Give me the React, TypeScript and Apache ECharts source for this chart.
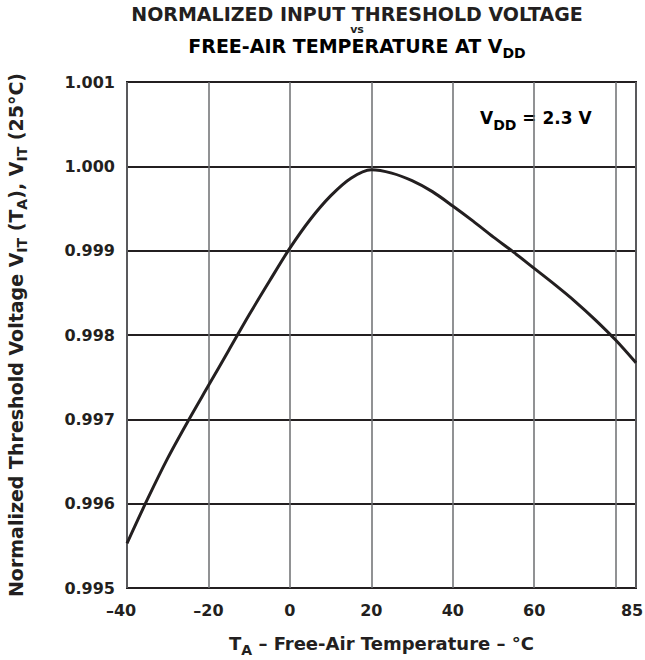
import React, { useEffect, useRef } from 'react';
import * as echarts from 'echarts';

// Curve (T_A in °C, normalized V_IT)
const temperatures = [-40, -35, -30, -25, -20, -15, -10, -5, 0, 5, 10, 15, 20, 25, 30, 35, 40, 45, 50, 55, 60, 65, 70, 75, 80, 85];
const normalizedVoltage = [
  0.99553, 0.99605, 0.99654, 0.99698, 0.9974, 0.99782, 0.99824, 0.99864, 0.99903, 0.99937, 0.99965, 0.99986, 0.99996,
  0.99992, 0.99983, 0.9997, 0.99953, 0.99935, 0.99916, 0.99898, 0.99879, 0.9986, 0.9984, 0.99818, 0.99794, 0.99767,
];

const xMin = -40;
const xMax = 85;
const xStep = 20;
const yMin = 0.995;
const yMax = 1.001;
const yStep = 0.001;

const titleLine1 = 'NORMALIZED INPUT THRESHOLD VOLTAGE';
const titleLine2 = 'vs';
const titleLine3 = 'FREE-AIR TEMPERATURE AT V';
const annotation = ' = 2.3 V';

const FONT = "'DejaVu Sans', 'Liberation Sans', sans-serif";
const INK = '#231f20';

const richStyles = (size: number, subSize: number, subDrop: number, lh = 4) => ({
  m: { fontFamily: FONT, fontWeight: 'bold', fontSize: size, lineHeight: size + lh, verticalAlign: 'top', color: INK },
  s: { fontFamily: FONT, fontWeight: 'bold', fontSize: subSize, lineHeight: subSize + 2, padding: [subDrop, 0, 0, 0], verticalAlign: 'top', color: INK },
});

const tickText = { fontFamily: FONT, fontWeight: 'bold', fontSize: 16, color: INK };

export default function App() {
  const ref = useRef<HTMLDivElement>(null);
  useEffect(() => {
    if (!ref.current) return;
    const chart = echarts.init(ref.current, undefined, { renderer: 'svg' });
    const option: any = {
      animation: false,
      backgroundColor: '#ffffff',
      grid: {
        left: 127, top: 82, width: 509, height: 506,
        show: true, borderColor: INK, borderWidth: 2,
        containLabel: false, outerBoundsMode: 'none',
      },
      xAxis: {
        type: 'value', min: xMin, max: xMax, interval: xStep,
        axisLine: { show: false }, axisTick: { show: false },
        splitLine: { show: true, lineStyle: { color: '#6d6e71', width: 1.5 } },
        axisLabel: {
          margin: 14, ...tickText,
          showMinLabel: true, showMaxLabel: true,
          formatter: (v: number) => {
            const s = v < 0 ? '\u2013' + Math.abs(v) : String(v);
            if (v === xMin) return '{l|' + s + '}';
            if (v === xMax) return '{r|' + s + '}';
            return s;
          },
          rich: {
            l: { ...tickText, padding: [0, 12, 0, 0] },
            r: { ...tickText, padding: [0, 8, 0, 0] },
          },
        },
        name: '{m|T}{s|A}{m| \u2013 Free-Air Temperature \u2013 °C}',
        nameLocation: 'middle', nameGap: 46,
        nameTextStyle: { rich: richStyles(18, 14, 9) },
      },
      yAxis: {
        type: 'value', min: yMin, max: yMax, interval: yStep,
        axisLine: { show: false }, axisTick: { show: false },
        splitLine: { show: true, lineStyle: { color: INK, width: 2 } },
        axisLabel: {
          margin: 12, ...tickText,
          formatter: (v: number) => v.toFixed(3),
        },
        name: '{m|Normalized Threshold Voltage V}{s|IT}{m| (T}{s|A}{m|), V}{s|IT}{m| (25°C)}',
        nameLocation: 'middle', nameGap: 98, nameRotate: 90,
        nameTextStyle: { rich: richStyles(19, 14, 9) },
      },
      series: [{
        type: 'line',
        data: temperatures.map((t, i) => [t, normalizedVoltage[i]]),
        smooth: 0.3, symbol: 'none',
        lineStyle: { color: INK, width: 3 },
      }],
      graphic: [
        { type: 'text', x: 357, y: 13.5, style: { text: titleLine1, fontFamily: FONT, fontWeight: 'bold', fontSize: 19, fill: INK, align: 'center', verticalAlign: 'middle' } },
        { type: 'text', x: 357, y: 29.5, style: { text: titleLine2, fontFamily: FONT, fontWeight: 'bold', fontSize: 11, fill: INK, align: 'center', verticalAlign: 'middle' } },
        { type: 'text', x: 357, y: 36, style: { text: '{m|' + titleLine3 + '}{s|DD}', align: 'center', verticalAlign: 'top', rich: richStyles(19, 14, 10, 0) } },
        { type: 'text', x: 480, y: 109, style: { text: '{m|V}{s|DD}{m|' + annotation + '}', align: 'left', verticalAlign: 'top', rich: richStyles(17, 14, 9) } },
      ],
    };
    chart.setOption(option);
    return () => chart.dispose();
  }, []);
  return <div ref={ref} style={{ position: 'fixed', left: 0, top: 0, width: 645, height: 660 }} />;
}
